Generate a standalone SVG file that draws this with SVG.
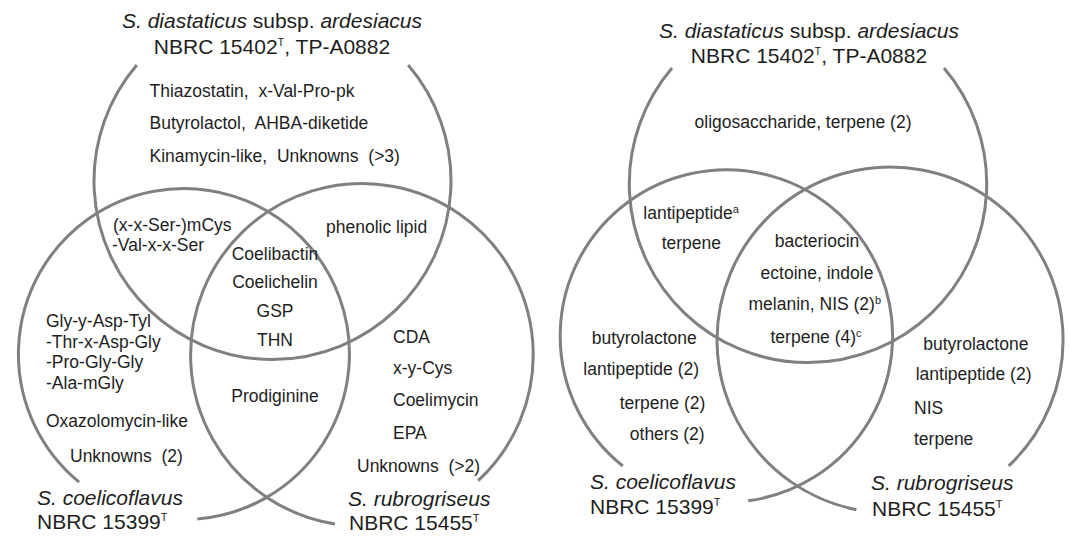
<svg xmlns="http://www.w3.org/2000/svg" width="1069" height="536" viewBox="0 0 1069 536">
<style>
.c{fill:none;stroke:#808080;stroke-width:3}
text{font-family:"Liberation Sans",Arial,sans-serif;fill:#1e1e1e}
.t{font-size:17.5px}
.h{font-size:21px}
.m{text-anchor:middle}
.i{font-style:italic}
.s{font-size:11px}
</style>
<rect width="1069" height="536" fill="#fff"/>
<g id="left">
<g id="L-diastaticus">
<path class="c" d="M136.8,65 A178.5,178.5 0 1 0 408.2,65"/>
<text class="h m" x="272" y="28"><tspan class="i">S. diastaticus</tspan> subsp. <tspan class="i">ardesiacus</tspan></text>
<text class="h m" x="272" y="54">NBRC 15402<tspan class="s" dy="-8">T</tspan><tspan dy="8">, TP-A0882</tspan></text>
<text class="t" x="149.5" y="97" xml:space="preserve">Thiazostatin,  x-Val-Pro-pk</text>
<text class="t" x="149.5" y="129" xml:space="preserve">Butyrolactol,  AHBA-diketide</text>
<text class="t" x="149.5" y="162" xml:space="preserve">Kinamycin-like,  Unknowns  (&gt;3)</text>
</g>
<g id="L-coelicoflavus">
<path class="c" d="M79.1,482.1 A165.5,165.5 0 1 1 197.2,519"/>
<text class="h i" x="37" y="505">S. coelicoflavus</text>
<text class="h" x="37" y="529">NBRC 15399<tspan class="s" dy="-8">T</tspan></text>
<text class="t" x="46" y="327">Gly-y-Asp-Tyl</text>
<text class="t" x="46" y="347.5">-Thr-x-Asp-Gly</text>
<text class="t" x="46" y="368">-Pro-Gly-Gly</text>
<text class="t" x="46" y="388.5">-Ala-mGly</text>
<text class="t" x="46" y="427">Oxazolomycin-like</text>
<text class="t" x="70" y="462" xml:space="preserve">Unknowns  (2)</text>
</g>
<g id="L-rubrogriseus">
<path class="c" d="M478.2,480.6 A171.3,171.3 0 1 0 335,524"/>
<text class="h i" x="348" y="506">S. rubrogriseus</text>
<text class="h" x="349" y="530">NBRC 15455<tspan class="s" dy="-8">T</tspan></text>
<text class="t" x="393" y="342.5">CDA</text>
<text class="t" x="393" y="374">x-y-Cys</text>
<text class="t" x="393" y="405.5">Coelimycin</text>
<text class="t" x="393" y="438.5">EPA</text>
<text class="t" x="357" y="472" xml:space="preserve">Unknowns  (&gt;2)</text>
</g>
<g id="L-shared">
<text class="t" x="113" y="231">(x-x-Ser-)mCys</text>
<text class="t" x="112" y="251">-Val-x-x-Ser</text>
<text class="t" x="326" y="233">phenolic lipid</text>
<text class="t m" x="275" y="260">Coelibactin</text>
<text class="t m" x="275" y="288">Coelichelin</text>
<text class="t m" x="275" y="317">GSP</text>
<text class="t m" x="275" y="346">THN</text>
<text class="t m" x="275" y="402">Prodiginine</text>
</g>
</g>
<g id="right">
<g id="R-diastaticus">
<path class="c" d="M672,68 A178.7,178.7 0 1 0 944,68"/>
<text class="h m" x="809" y="37.5"><tspan class="i">S. diastaticus</tspan> subsp. <tspan class="i">ardesiacus</tspan></text>
<text class="h m" x="809" y="63">NBRC 15402<tspan class="s" dy="-8">T</tspan><tspan dy="8">, TP-A0882</tspan></text>
<text class="t m" x="803" y="128">oligosaccharide, terpene (2)</text>
</g>
<g id="R-coelicoflavus">
<path class="c" d="M622.8,466 A166.2,166.2 0 1 1 748.2,500.8"/>
<text class="h i" x="590" y="489">S. coelicoflavus</text>
<text class="h" x="590" y="513.5">NBRC 15399<tspan class="s" dy="-8">T</tspan></text>
<text class="t" x="591.7" y="343.5">butyrolactone</text>
<text class="t" x="583.3" y="375">lantipeptide (2)</text>
<text class="t" x="619.7" y="408.5">terpene (2)</text>
<text class="t" x="629.8" y="440">others (2)</text>
</g>
<g id="R-rubrogriseus">
<path class="c" d="M1008.7,465.9 A173,173 0 1 0 856.4,509.7"/>
<text class="h i" x="871" y="490">S. rubrogriseus</text>
<text class="h" x="872" y="516">NBRC 15455<tspan class="s" dy="-8">T</tspan></text>
<text class="t" x="923.3" y="349.5">butyrolactone</text>
<text class="t" x="915.7" y="380">lantipeptide (2)</text>
<text class="t" x="914" y="413.5">NIS</text>
<text class="t" x="914" y="445">terpene</text>
</g>
<g id="R-shared">
<text class="t" x="643.3" y="218.5">lantipeptide<tspan class="s" dy="-6">a</tspan></text>
<text class="t" x="661.7" y="248.5">terpene</text>
<text class="t m" x="817" y="247">bacteriocin</text>
<text class="t m" x="817" y="278.5">ectoine, indole</text>
<text class="t" x="748.5" y="310">melanin, NIS (2)<tspan class="s" dy="-6">b</tspan></text>
<text class="t" x="770.5" y="343">terpene (4)<tspan class="s" dy="-6">c</tspan></text>
</g>
</g>
<g id="connectors"/>
</svg>
